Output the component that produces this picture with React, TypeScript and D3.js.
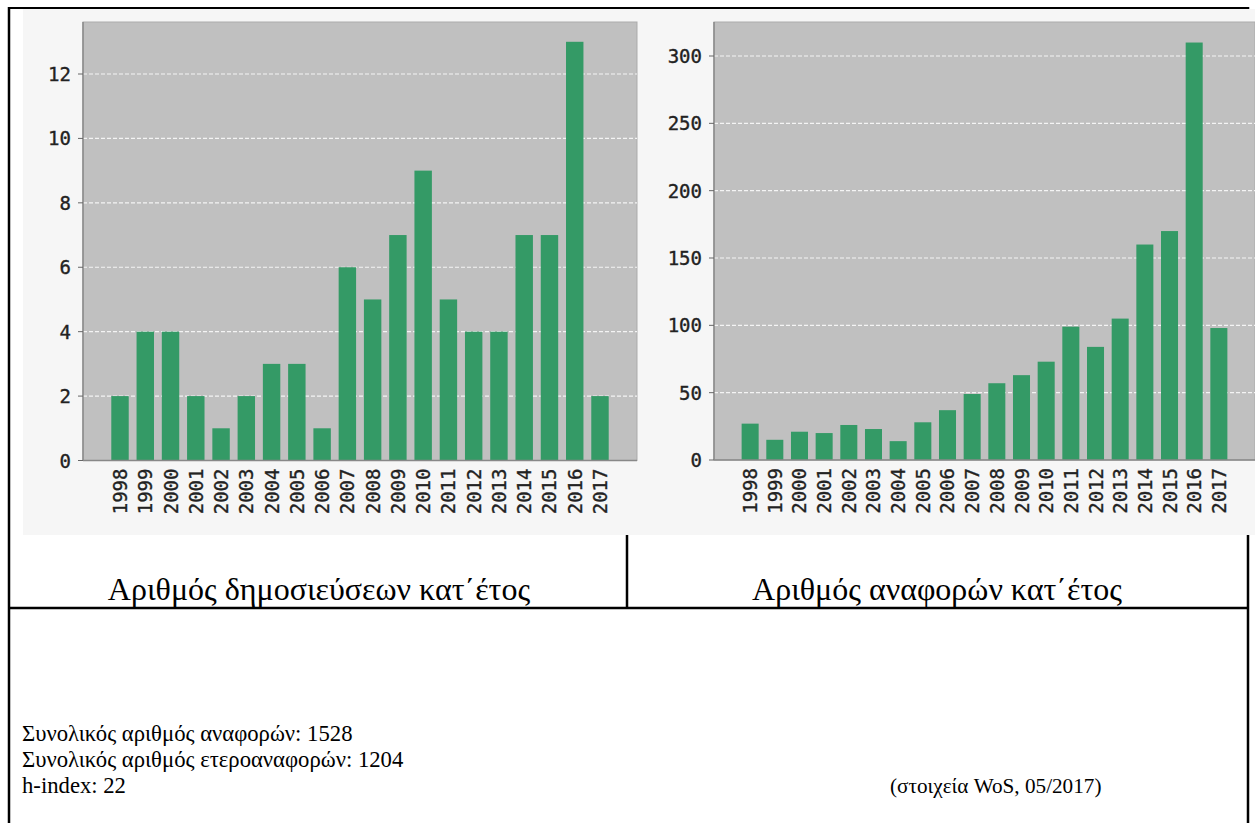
import React from 'react';
import * as d3 from 'd3';

const years = ['1998','1999','2000','2001','2002','2003','2004','2005','2006','2007','2008','2009','2010','2011','2012','2013','2014','2015','2016','2017'];
const publications = [2,4,4,2,1,2,3,3,1,6,5,7,9,5,4,4,7,7,13,2];
const citations = [27,15,21,20,26,23,14,28,37,49,57,63,73,99,84,105,160,170,310,98];
const pubTicks = [0,2,4,6,8,10,12];
const citTicks = [0,50,100,150,200,250,300];

const titleLeft = 'Αριθμός δημοσιεύσεων κατ΄έτος';
const titleRight = 'Αριθμός αναφορών κατ΄έτος';
const infoLines = ['Συνολικός αριθμός αναφορών: 1528', 'Συνολικός αριθμός ετεροαναφορών: 1204', 'h-index: 22'];
const sourceNote = '(στοιχεία WoS, 05/2017)';

const BAR = '#349a66';
const PLOT_BG = '#c0c0c0';
const TICK_FONT = '"DejaVu Sans Mono", monospace';

type ChartProps = {
  values: number[];
  ticks: number[];
  left: number; right: number; top: number; zero: number;
  refTick: number; refY: number;
};

function BarChart({ values, ticks, left, right, top, zero, refTick, refY }: ChartProps) {
  const x = d3.scaleBand<string>().domain(years).range([left, right]).paddingInner(0.31).paddingOuter(1.12);
  const y = d3.scaleLinear().domain([0, refTick]).range([zero, refY]);
  const bw = x.bandwidth();
  return (
    <g>
      <rect x={left} y={top} width={right - left} height={zero - top} fill={PLOT_BG} stroke="#ababab" strokeWidth={1} />
      {ticks.filter(t => t > 0).map(t => (
        <line key={'g' + t} x1={left} x2={right} y1={y(t)} y2={y(t)} stroke="#f4f4f4" strokeWidth={1.2} strokeDasharray="4,2" />
      ))}
      {values.map((v, i) => (
        <rect key={years[i]} x={x(years[i])} y={y(v)} width={bw} height={zero - y(v)} fill={BAR} />
      ))}
      <line x1={left} x2={left} y1={top} y2={zero} stroke="#888" strokeWidth={1.5} />
      <line x1={left} x2={right} y1={zero} y2={zero} stroke="#888" strokeWidth={1.5} />
      {ticks.map(t => (
        <g key={'t' + t}>
          <line x1={left - 5} x2={left} y1={y(t)} y2={y(t)} stroke="#666" strokeWidth={1} />
          <text x={left - 12} y={y(t)} textAnchor="end" dominantBaseline="central" fontFamily={TICK_FONT} fontSize={19} fill="#222" stroke="#222" strokeWidth={0.35}>{t}</text>
        </g>
      ))}
      {years.map(yr => (
        <text key={'x' + yr} transform={`translate(${(x(yr) as number) + bw / 2},${zero + 8}) rotate(-90)`} textAnchor="end" dominantBaseline="central" fontFamily={TICK_FONT} fontSize={19} fill="#222" stroke="#222" strokeWidth={0.35}>{yr}</text>
      ))}
    </g>
  );
}

export default function App() {
  const serif = '"Liberation Serif", "Times New Roman", serif';
  return (
    <svg width={1255} height={823} style={{ position: 'absolute', left: 0, top: 0, background: '#fff' }}>
      <rect x={0} y={0} width={1255} height={823} fill="#fff" />
      {/* table borders */}
      <line x1={8} x2={1248} y1={8} y2={8} stroke="#000" strokeWidth={2} />
      <line x1={9} x2={9} y1={7} y2={823} stroke="#000" strokeWidth={2.5} />
      <line x1={1248} x2={1248} y1={7} y2={823} stroke="#000" strokeWidth={2.5} />
      <line x1={627} x2={627} y1={8} y2={608} stroke="#000" strokeWidth={2.5} />
      <line x1={8} x2={1248} y1={608} y2={608} stroke="#000" strokeWidth={2.5} />
      {/* chart images */}
      <rect x={23} y={9} width={1232} height={526} fill="#f6f6f6" />
      <BarChart values={publications} ticks={pubTicks} left={83} right={637} top={22} zero={460.5} refTick={12} refY={74} />
      <BarChart values={citations} ticks={citTicks} left={714} right={1255} top={22} zero={460} refTick={300} refY={56} />
      {/* captions */}
      <text x={319} y={600} textAnchor="middle" fontFamily={serif} fontSize={32} fill="#000">{titleLeft}</text>
      <text x={937} y={600} textAnchor="middle" fontFamily={serif} fontSize={32} fill="#000">{titleRight}</text>
      {infoLines.map((l, i) => (
        <text key={l} x={22} y={741 + i * 26} fontFamily={serif} fontSize={22.7} fill="#000">{l}</text>
      ))}
      <text x={890} y={793} fontFamily={serif} fontSize={21.2} fill="#000">{sourceNote}</text>
    </svg>
  );
}
